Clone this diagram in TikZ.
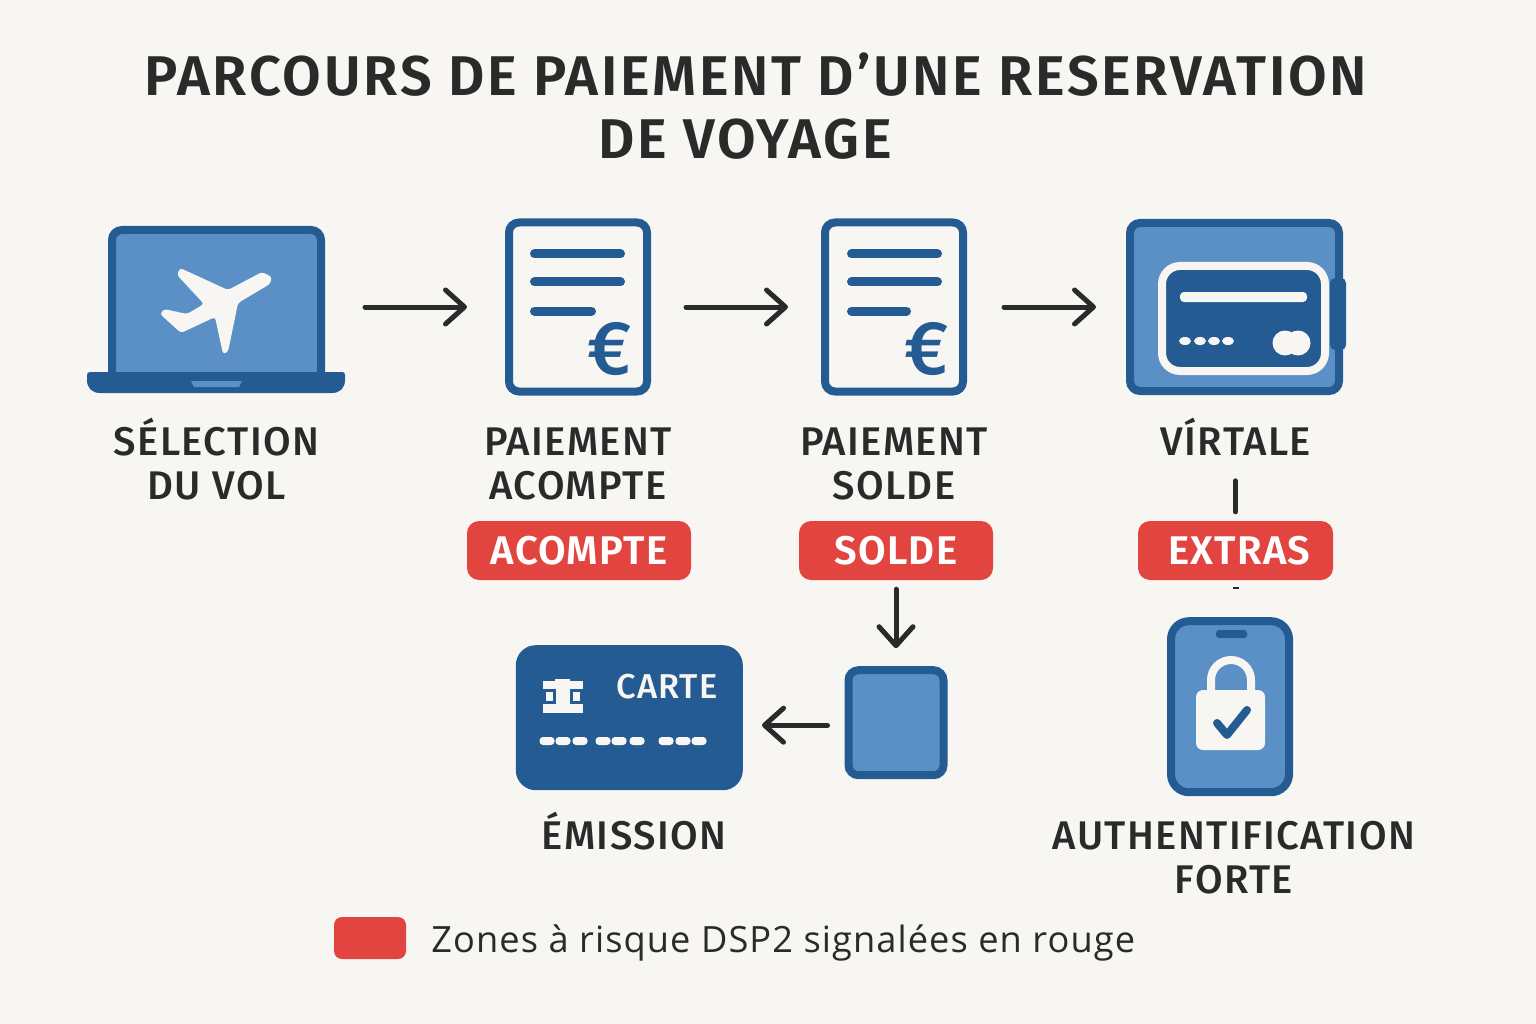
\documentclass[tikz,border=0pt]{standalone}
\usepackage{fontspec}
\setmainfont{Open Sans}
\newfontfamily\headfont{Fira Sans SemiBold}[LetterSpace=4.8]
\newfontfamily\labelfont{Fira Sans Medium}[LetterSpace=3.5]
\newfontfamily\tagfont{Fira Sans SemiBold}[LetterSpace=3]
\newfontfamily\legendfont{Open Sans}[LetterSpace=3]
\usetikzlibrary{arrows.meta,positioning}
\definecolor{paper}{HTML}{F8F6F2}
\definecolor{bluedark}{HTML}{245B93}
\definecolor{bluelight}{HTML}{5A90C5}
\definecolor{redflag}{HTML}{E2453F}
\definecolor{ink}{HTML}{2A2A2A}

\begin{document}
\begin{tikzpicture}[x=1pt,y=-1pt,
		>={Straight Barb[length=19pt,width=34pt,round]},
		flow/.style = {->, draw=ink, line width=5pt, line cap=round},
		wire/.style = {draw=ink, line width=5pt},
		icon/.style = {draw=bluedark, fill=bluelight, line width=8pt, rounded corners=10pt, inner sep=0pt},
		sheet/.style = {icon, fill=paper, minimum width=138pt, minimum height=169pt},
		rule/.style = {draw=bluedark, line width=9pt, line cap=round},
		euro/.style = {font=\fontsize{76}{76}\labelfont, text=bluedark, inner sep=0pt},
		caption/.style = {font=\fontsize{40}{44}\labelfont, text=ink, align=center, inner sep=0pt},
		title/.style = {font=\fontsize{56}{56}\headfont, text=ink, inner sep=0pt},
		tag/.style = {fill=redflag, rounded corners=12pt, minimum height=59pt, inner sep=0pt, text=white, font=\fontsize{40}{40}\tagfont}
		]
		\fill[paper] (0,0) rectangle (1536,1024);
		\path[use as bounding box] (0,0) rectangle (1536,1024);
		
		\node (title1) [title] at (756,75) {PARCOURS DE PAIEMENT D’UNE RESERVATION};
		\node (title2) [title] at (745,139) {DE VOYAGE};
		
		% top row
		\node (laptop) [icon,minimum width=209pt,minimum height=154pt] at (216.5,307) {};
		\node (docA) [sheet,right=180pt of laptop] {};
		\node (docB) [sheet,right=170pt of docA] {};
		\node (wallet) [icon,right=159pt of docB,minimum width=209pt,minimum height=168pt] {};
		
		% laptop base and plane
		\fill[bluedark] (90,372) -- (342,372) .. controls (344,372) and (345,373) .. (345,375) -- (345,380) .. controls (345,388) and (340,393) .. (332,393) -- (100,393) .. controls (92,393) and (87,388) .. (87,380) -- (87,375) .. controls (87,373) and (88,372) .. (90,372) -- cycle;
		\fill[bluelight] (191,381) -- (242,381) -- (239,387) -- (194,387) -- cycle;
		\fill[paper, rounded corners=3pt] (180,268) -- (228,290) -- (262,272) -- (272,277) -- (270,284) -- (238,303) -- (228,352) -- (223,354) -- (215,317) -- (181,333) -- (160,314) -- (164,309) -- (187,314) -- (204,304) -- (177,275) -- cycle;
		
		% document lines
		\draw[rule] (534.5,254) -- (620.5,254);
		\draw[rule] (534.5,282) -- (620.5,282);
		\draw[rule] (534.5,311) -- (591.5,311);
		\node (euroA) [euro] at (610,349) {€};
		\draw[rule] (851.5,254) -- (937.5,254);
		\draw[rule] (851.5,282) -- (937.5,282);
		\draw[rule] (851.5,311) -- (906.5,311);
		\node (euroB) [euro] at (927,349) {€};
		
		% wallet card
		\fill[bluedark, rounded corners=5pt] (1330,278) rectangle (1346,350);
		\draw[draw=paper, fill=bluedark, line width=8pt, rounded corners=18pt] (1162,266) rectangle (1325,371);
		\fill[paper, rounded corners=4pt] (1180,292) rectangle (1307,302);
		\foreach \x in {1185,1200,1214,1228}
			\fill[paper] (\x,341) ellipse [x radius=6pt, y radius=4pt];
		\fill[paper] (1285,343) circle [radius=12.5pt];
		\fill[paper] (1298,343) circle [radius=12.5pt];
		
		% captions
		\node (selection) [caption,below=30pt of laptop] {SÉLECTION\\DU VOL};
		\node (acompte) [caption,below=32pt of docA] {PAIEMENT\\ACOMPTE};
		\node (solde) [caption,below=32pt of docB] {PAIEMENT\\SOLDE};
		\node (virtale) [caption,below=23pt of wallet,xshift=1.5pt] {VÍRTALE};
		
		% red tags
		\node (tagA) [tag,minimum width=224pt] at (579,550.5) {ACOMPTE};
		\node (tagB) [tag,minimum width=194pt] at (896,550.5) {SOLDE};
		\node (tagC) [tag,minimum width=195pt] at (1235.5,550.5) {\hspace*{8pt}EXTRAS};
		
		% lower row
		\node (square) [icon,below=86pt of tagB,minimum width=95pt,minimum height=105pt] {};
		\node (card) [left=101.5pt of square,yshift=5pt,fill=bluedark,rounded corners=20pt,minimum width=227pt,minimum height=145pt,inner sep=0pt] {};
		\node (phone) [icon,below=37pt of tagC,xshift=-5.5pt,rounded corners=18pt,minimum width=118pt,minimum height=171pt] {};
		\node (carte) [font=\fontsize{34.5}{34.5}\labelfont,text=paper,inner sep=0pt] at (667,687) {CARTE};
		
		% chip and card number
		\fill[paper] (543,681) rectangle (583,713);
		\fill[paper] (555,679) rectangle (570,681);
		\foreach \x in {543,570} {
			\fill[bluedark] (\x,689) rectangle (\x+13,704);
			\fill[paper] (\x+3,692) rectangle (\x+10,701);
		}
		\foreach \x in {547,563,580,603,619,637,666,683,699}
			\fill[paper, rounded corners=3.5pt] (\x-7.5,737) rectangle (\x+7.5,745);
		
		% phone
		\fill[bluedark, rounded corners=3pt] (1216,630) rectangle (1247,638);
		\draw[draw=paper, line width=8pt] (1211,695) -- (1211,680) arc [start angle=180, end angle=0, x radius=20pt, y radius=20pt] -- (1251,695);
		\fill[paper, rounded corners=7pt] (1196,690) rectangle (1265,750);
		\draw[draw=bluedark, line width=8pt, line cap=round, line join=round] (1217,723) -- (1227,735) -- (1247,710);
		
		\node (emission) [caption] at (634,831) {ÉMISSION};
		\node (authent) [caption] at (1234,858) {AUTHENTIFICATION\\FORTE};
		
		% arrows
		\draw[flow, shorten <=40pt, shorten >=38pt] (laptop) -- (docA);
		\draw[flow, shorten <=35pt, shorten >=33pt] (docA) -- (docB);
		\draw[flow, shorten <=37pt, shorten >=30pt] (docB) -- (wallet);
		\draw[flow, shorten <=9pt, shorten >=18pt] (tagB) -- (square);
		\draw[flow, shorten <=17pt, shorten >=19pt] ([yshift=-2.5pt]square.west) -- ([yshift=-2.5pt]square.west -| card.east);
		\draw[wire, line cap=round] ([yshift=-25pt]tagC.north |- virtale.south) -- ([yshift=9pt]tagC.north);
		\draw[draw=ink, line width=6pt, shorten <=7pt, shorten >=28pt] (tagC.south) -- (tagC.south |- phone.north);
		
		% legend
		\node (swatch) [fill=redflag,rounded corners=8pt,minimum width=72pt,minimum height=42pt,inner sep=0pt] at (370,938) {};
		\node (legend) [right=25pt of swatch,yshift=-5pt,font=\fontsize{36.2}{36}\legendfont,text=ink,inner sep=0pt] {Zones à risque DSP2 signalées en rouge};
		
		\end{tikzpicture}
\end{document}
